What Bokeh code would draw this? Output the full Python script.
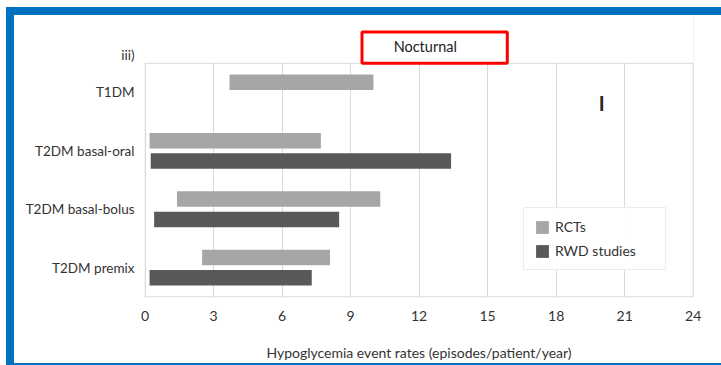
from bokeh.plotting import figure
from bokeh.layouts import column
from bokeh.models import FixedTicker, BoxAnnotation, Label, Range1d, ColumnDataSource
from bokeh.embed import file_html
from bokeh.resources import INLINE

# Event-rate ranges (episodes/patient/year), nocturnal hypoglycemia
categories = ["T1DM", "T2DM basal-oral", "T2DM basal-bolus", "T2DM premix"]
rct_low = [3.7, 0.2, 1.4, 2.5]
rct_high = [10.0, 7.7, 10.3, 8.1]
rwd_low = [None, 0.25, 0.4, 0.2]
rwd_high = [None, 13.4, 8.5, 7.3]
x_ticks = [0, 3, 6, 9, 12, 15, 18, 21, 24]
panel_label = "iii)"
panel_title = "Nocturnal"

FONT = "Lato"
TEXT = "#333333"
GRID = "#D9D9D9"
RCT_COLOR = "#A6A6A6"
RWD_COLOR = "#595959"
BLUE = "#0070C0"

n = len(categories)
cat_y = [n - 0.5 - i for i in range(n)]
offset = 0.175
bar_h = 0.265
label_y = n + 0.139          # panel label sits just above the chart box

rct_src = ColumnDataSource(dict(
    y=[c + offset for c in cat_y], left=rct_low, right=rct_high))
rwd_rows = [(c, lo, hi) for c, lo, hi in zip(cat_y, rwd_low, rwd_high) if lo is not None]
rwd_src = ColumnDataSource(dict(
    y=[r[0] - offset for r in rwd_rows],
    left=[r[1] for r in rwd_rows],
    right=[r[2] for r in rwd_rows]))

# the frame reaches to the top so the title box can live inside it;
# the visible chart box is drawn separately from 0..24 x 0..n
p = figure(width=707, height=348, output_backend="svg", toolbar_location=None,
           x_range=Range1d(-0.0219, 24.013), y_range=Range1d(-0.0117, n + 0.819),
           min_border_left=130, min_border_right=28,
           min_border_top=0, min_border_bottom=59)
p.background_fill_color = "white"
p.border_fill_color = "white"
p.outline_line_color = None

p.hbar(y="y", left="left", right="right", height=bar_h, source=rct_src,
       fill_color=RCT_COLOR, line_color=None, legend_label="RCTs")
p.hbar(y="y", left="left", right="right", height=bar_h, source=rwd_src,
       fill_color=RWD_COLOR, line_color=None, legend_label="RWD studies")

# x axis
p.xaxis.ticker = FixedTicker(ticks=x_ticks)
p.xaxis.axis_line_color = None
p.xaxis.major_tick_line_color = None
p.xaxis.minor_tick_line_color = None
p.xaxis.major_label_standoff = 7
p.xaxis.major_label_text_font = FONT
p.xaxis.major_label_text_font_size = "14px"
p.xaxis.major_label_text_color = TEXT
p.xaxis.axis_label = "Hypoglycemia event rates (episodes/patient/year)"
p.xaxis.axis_label_text_font = FONT
p.xaxis.axis_label_text_font_size = "14px"
p.xaxis.axis_label_text_font_style = "normal"
p.xaxis.axis_label_text_color = TEXT
p.xaxis.axis_label_standoff = 20

# y axis: category names plus the panel label above the box
p.yaxis.ticker = FixedTicker(ticks=cat_y + [label_y])
overrides = {c: name for c, name in zip(cat_y, categories)}
overrides[label_y] = panel_label
p.yaxis.major_label_overrides = overrides
p.yaxis.axis_line_color = None
p.yaxis.major_tick_line_color = None
p.yaxis.minor_tick_line_color = None
p.yaxis.major_label_standoff = 4
p.yaxis.major_label_text_font = FONT
p.yaxis.major_label_text_font_size = "13.5px"
p.yaxis.major_label_text_color = TEXT

p.xgrid.grid_line_color = GRID
p.ygrid.grid_line_color = None

# hide grid lines above the chart box, then draw the box outline
p.add_layout(BoxAnnotation(bottom=n, fill_color="white", fill_alpha=1,
                           line_color=None, level="glyph"))
p.add_layout(BoxAnnotation(left=0, right=24, bottom=0, top=n, fill_alpha=0,
                           line_color=GRID, line_alpha=1, line_width=1,
                           border_radius=0))

# title box
p.add_layout(BoxAnnotation(left=347.5, right=492.8, top=16.5, bottom=47.8,
                           left_units="canvas", right_units="canvas",
                           top_units="canvas", bottom_units="canvas",
                           fill_alpha=0, line_color="#FF0000", line_alpha=1,
                           line_width=3, border_radius=0))
p.add_layout(Label(x=12.27, y=n + 0.289, text=panel_title, text_align="center",
                   text_baseline="middle", text_font=FONT,
                   text_font_size="14.5px", text_color="#222222"))
p.add_layout(Label(x=20, y=3.32, text="I", text_align="center",
                   text_baseline="middle", text_font=FONT,
                   text_font_size="20px", text_font_style="bold",
                   text_color="#262626"))

# legend
lg = p.legend[0]
lg.location = (379, 27)
lg.border_line_color = GRID
lg.border_line_width = 1
lg.background_fill_color = "white"
lg.padding = 10
lg.spacing = 7
lg.margin = 0
lg.glyph_width = 16
lg.glyph_height = 16
lg.label_height = 16
lg.label_width = 100
lg.label_standoff = 5
lg.label_text_font = FONT
lg.label_text_font_size = "14px"
lg.label_text_color = TEXT

# blue page frame on the left, top and bottom
page = column(p, styles={
    "margin-left": "6px", "margin-top": "7px",
    "border-left": f"8px solid {BLUE}",
    "border-top": f"8px solid {BLUE}",
    "border-bottom": f"2px solid {BLUE}",
})

open("out.html", "w").write(file_html(page, INLINE))
